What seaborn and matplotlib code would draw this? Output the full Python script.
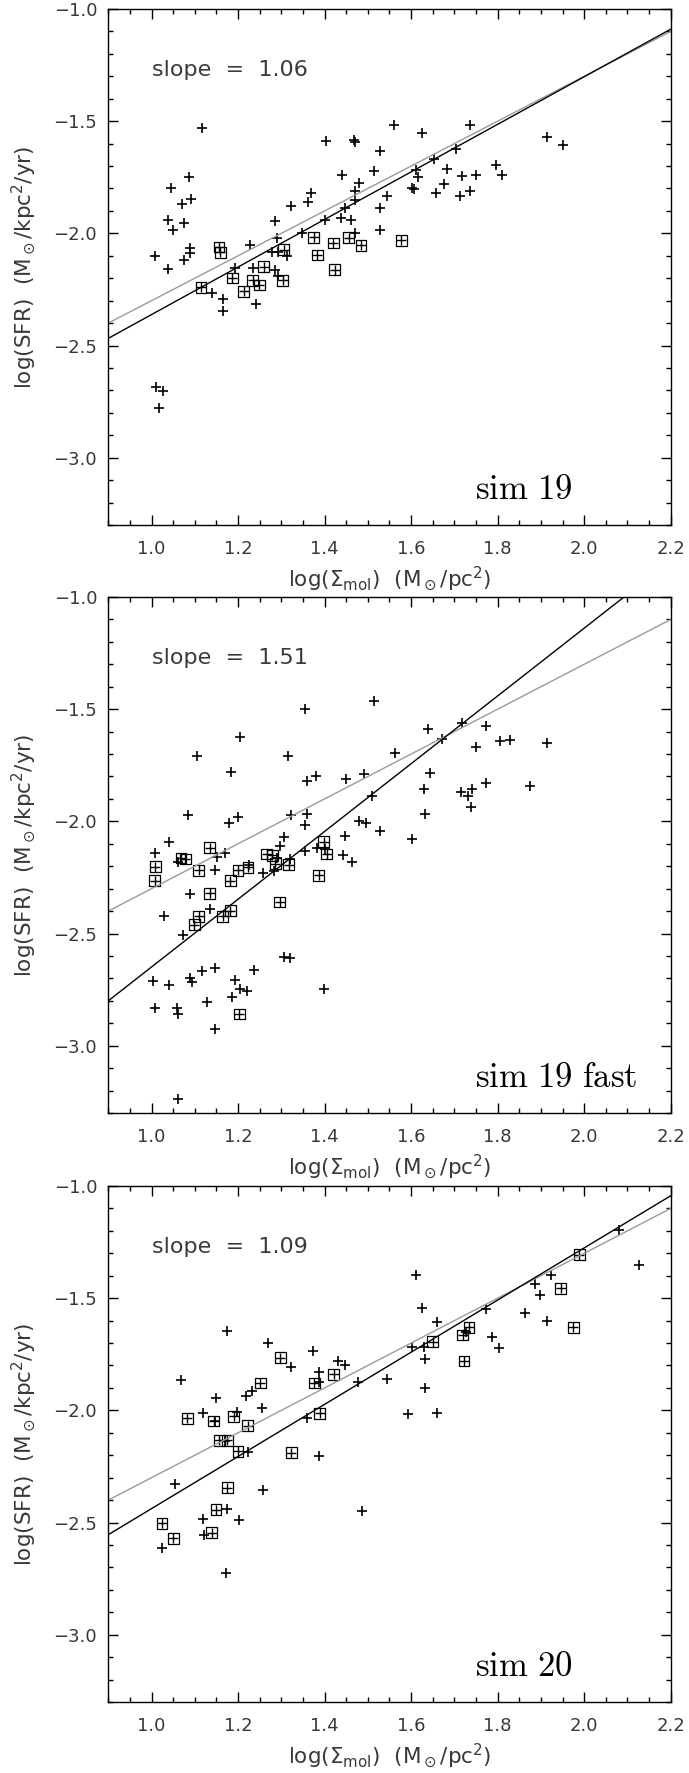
import numpy as np
import pandas as pd
import matplotlib
matplotlib.use("Agg")
import matplotlib.pyplot as plt
import seaborn as sns

# ---------------- data ----------------
# panel 1 : sim 19
p1_plus_x = [1.117, 1.046, 1.086, 1.091, 1.070, 1.038, 1.050, 1.075, 1.009, 1.038, 1.074, 1.090, 1.090,
             1.011, 1.027, 1.017, 1.139, 1.164, 1.166, 1.227, 1.193, 1.241, 1.234, 1.286, 1.291, 1.293,
             1.278, 1.286, 1.292, 1.314, 1.322, 1.347, 1.362, 1.369, 1.403, 1.400, 1.441, 1.437, 1.446,
             1.461, 1.467, 1.470, 1.470, 1.479, 1.470, 1.470, 1.515, 1.527, 1.527, 1.527, 1.545, 1.560,
             1.626, 1.603, 1.606, 1.611, 1.616, 1.652, 1.657, 1.677, 1.684, 1.703, 1.713, 1.718, 1.736,
             1.736, 1.750, 1.796, 1.809, 1.913, 1.951]
p1_plus_y = [-1.529, -1.796, -1.750, -1.847, -1.869, -1.940, -1.986, -1.954, -2.102, -2.158, -2.119, -2.065, -2.088,
             -2.684, -2.702, -2.779, -2.264, -2.293, -2.345, -2.054, -2.153, -2.315, -2.153, -1.946, -2.020, -2.082,
             -2.085, -2.162, -2.190, -2.099, -1.876, -2.000, -1.861, -1.821, -1.588, -1.940, -1.741, -1.932, -1.889,
             -1.940, -1.583, -1.592, -1.813, -1.774, -1.850, -2.000, -1.724, -1.631, -1.889, -1.983, -1.833, -1.515,
             -1.554, -1.796, -1.804, -1.719, -1.748, -1.668, -1.818, -1.782, -1.711, -1.622, -1.833, -1.745, -1.515,
             -1.813, -1.741, -1.697, -1.741, -1.571, -1.605]
p1_box_x = [1.114, 1.156, 1.159, 1.187, 1.213, 1.234, 1.249, 1.259, 1.305, 1.303, 1.375, 1.383, 1.420,
            1.423, 1.456, 1.484, 1.577]
p1_box_y = [-2.241, -2.061, -2.085, -2.199, -2.259, -2.209, -2.230, -2.148, -2.073, -2.209, -2.017, -2.097, -2.043,
            -2.162, -2.020, -2.054, -2.031]

# panel 2 : sim 19 fast
p2_plus_x = [1.007, 1.040, 1.061, 1.084, 1.088, 1.029, 1.073, 1.105, 1.205, 1.183, 1.200, 1.180, 1.170,
             1.147, 1.151, 1.135, 1.226, 1.257, 1.316, 1.322, 1.305, 1.297, 1.291, 1.284, 1.320, 1.354,
             1.360, 1.360, 1.354, 1.354, 1.381, 1.383, 1.400, 1.450, 1.448, 1.443, 1.464, 1.480, 1.490,
             1.495, 1.515, 1.510, 1.528, 1.563, 1.603, 1.629, 1.631, 1.639, 1.644, 1.672, 1.718, 1.716,
             1.731, 1.741, 1.738, 1.750, 1.772, 1.774, 1.806, 1.829, 1.875, 1.914, 1.004, 1.007, 1.040,
             1.058, 1.061, 1.090, 1.093, 1.117, 1.127, 1.147, 1.146, 1.187, 1.192, 1.205, 1.220, 1.236,
             1.307, 1.319, 1.398, 1.061]
p2_plus_y = [-2.142, -2.091, -2.182, -1.972, -2.325, -2.424, -2.506, -1.708, -1.622, -1.781, -1.980, -2.009, -2.142,
             -2.219, -2.159, -2.390, -2.194, -2.231, -1.708, -1.972, -2.069, -2.108, -2.165, -2.223, -2.168, -1.500,
             -1.818, -1.967, -2.015, -2.134, -1.798, -2.117, -2.122, -1.813, -2.066, -2.151, -2.182, -1.997, -1.789,
             -2.006, -1.465, -1.887, -2.043, -1.696, -2.078, -1.858, -1.967, -1.588, -1.784, -1.631, -1.563, -1.870,
             -1.887, -1.858, -1.938, -1.668, -1.576, -1.827, -1.643, -1.639, -1.841, -1.653, -2.710, -2.830, -2.731,
             -2.833, -2.859, -2.697, -2.714, -2.666, -2.804, -2.654, -2.927, -2.782, -2.705, -2.748, -2.756, -2.662,
             -2.603, -2.611, -2.748, -3.239]
p2_box_x = [1.007, 1.009, 1.068, 1.078, 1.109, 1.134, 1.134, 1.109, 1.099, 1.164, 1.182, 1.182, 1.200,
            1.223, 1.266, 1.279, 1.286, 1.317, 1.296, 1.386, 1.398, 1.405, 1.203]
p2_box_y = [-2.265, -2.202, -2.163, -2.168, -2.219, -2.117, -2.321, -2.424, -2.461, -2.424, -2.398, -2.265, -2.219,
            -2.205, -2.146, -2.151, -2.188, -2.194, -2.359, -2.240, -2.091, -2.146, -2.859]

# panel 3 : sim 20
p3_plus_x = [1.068, 1.119, 1.149, 1.146, 1.175, 1.170, 1.198, 1.218, 1.232, 1.222, 1.256, 1.269, 1.322,
             1.360, 1.373, 1.386, 1.386, 1.386, 1.432, 1.447, 1.478, 1.545, 1.487, 1.055, 1.025, 1.119,
             1.121, 1.172, 1.175, 1.203, 1.257, 1.593, 1.603, 1.611, 1.624, 1.629, 1.633, 1.633, 1.660,
             1.660, 1.726, 1.772, 1.786, 1.802, 1.863, 1.886, 1.899, 1.913, 1.924, 2.081, 2.127]
p3_plus_y = [-1.865, -2.013, -1.946, -2.049, -1.647, -2.137, -2.009, -1.937, -1.912, -2.185, -1.989, -1.698, -1.805,
             -2.035, -1.737, -1.831, -1.873, -2.202, -1.780, -1.797, -1.873, -1.860, -2.449, -2.328, -2.614, -2.486,
             -2.557, -2.724, -2.440, -2.489, -2.355, -2.018, -1.717, -1.397, -1.545, -1.717, -1.771, -1.899, -1.604,
             -2.014, -1.652, -1.550, -1.674, -1.720, -1.567, -1.439, -1.485, -1.601, -1.397, -1.197, -1.354]
p3_box_x = [1.024, 1.050, 1.083, 1.144, 1.157, 1.175, 1.190, 1.200, 1.222, 1.175, 1.149, 1.139, 1.251,
            1.298, 1.323, 1.376, 1.389, 1.421, 1.650, 1.719, 1.734, 1.722, 1.946, 1.975, 1.989]
p3_box_y = [-2.503, -2.571, -2.035, -2.047, -2.134, -2.134, -2.026, -2.183, -2.069, -2.345, -2.443, -2.546, -1.878,
            -1.766, -2.188, -1.878, -2.013, -1.839, -1.694, -1.664, -1.630, -1.780, -1.456, -1.630, -1.306]

# fitted lines: slope and intercept (black fit) and reference (gray)
fit_slopes = [1.06, 1.51, 1.162]
fit_intercepts = [-3.422, -4.159, -3.600]
ref_slope = 1.0
ref_intercept = -3.30
slope_labels = ["slope  =  1.06", "slope  =  1.51", "slope  =  1.09"]
sim_labels = ["sim 19", "sim 19 fast", "sim 20"]

x_ticks = [1.0, 1.2, 1.4, 1.6, 1.8, 2.0, 2.2]
y_ticks = [-3.0, -2.5, -2.0, -1.5, -1.0]

panels = [
    (p1_plus_x, p1_plus_y, p1_box_x, p1_box_y),
    (p2_plus_x, p2_plus_y, p2_box_x, p2_box_y),
    (p3_plus_x, p3_plus_y, p3_box_x, p3_box_y),
]

# ---------------- style ----------------
sns.set_theme(style="ticks")
plt.rcParams["font.family"] = ["DejaVu Sans"]
plt.rcParams["mathtext.fontset"] = "dejavusans"
plt.rcParams["axes.linewidth"] = 1.0
plt.rcParams["axes.edgecolor"] = "black"

TXT = "#383838"

W, H = 689, 1773
fig = plt.figure(figsize=(W / 100, H / 100), dpi=100)
fig.patch.set_facecolor("white")

left = 108.3 / W
width = 562.4 / W
tops = [9, 597, 1186]
ph = 516

xline = np.array([0.9, 2.2])

for i, (px, py, bx, by) in enumerate(panels):
    ax = fig.add_axes([left, (H - tops[i] - ph) / H, width, ph / H])
    ax.set_facecolor("white")

    # reference (gray) and fitted (black) lines
    ref_df = pd.DataFrame({"x": xline, "y": ref_intercept + ref_slope * xline})
    fit_df = pd.DataFrame({"x": xline, "y": fit_intercepts[i] + fit_slopes[i] * xline})
    sns.lineplot(data=ref_df, x="x", y="y", color="#9a9a9a", lw=1.0, ax=ax)
    sns.lineplot(data=fit_df, x="x", y="y", color="black", lw=1.0, ax=ax)

    # points
    sns.scatterplot(x=px, y=py, marker="+", s=55, color="black", linewidth=1.2, ax=ax)
    sns.scatterplot(x=bx, y=by, marker="+", s=55, color="black", linewidth=1.0, ax=ax)
    sns.scatterplot(x=bx, y=by, marker="s", s=60, facecolor="none", edgecolor="black",
                    linewidth=0.9, ax=ax)

    ax.set_xlim(0.9, 2.2)
    ax.set_ylim(-3.3, -1.0)
    ax.set_xticks(x_ticks)
    ax.set_yticks(y_ticks)
    ax.set_xticklabels([f"{v:.1f}" for v in x_ticks])
    ax.set_yticklabels([f"\u2212{abs(v):.1f}" for v in y_ticks])
    ax.xaxis.set_minor_locator(matplotlib.ticker.MultipleLocator(0.05))
    ax.yaxis.set_minor_locator(matplotlib.ticker.MultipleLocator(0.1))
    ax.tick_params(which="both", direction="in", top=True, right=True, color="black",
                   width=1.0, labelsize=13, labelcolor=TXT)
    ax.tick_params(which="major", length=7.5)
    ax.tick_params(which="minor", length=3.8)
    ax.tick_params(axis="x", which="major", pad=11)
    ax.tick_params(axis="y", which="major", pad=8)
    for s in ax.spines.values():
        s.set_visible(True)
        s.set_linewidth(1.0)
        s.set_color("black")

    ax.set_xlabel(r"log($\Sigma_{\rm mol}$)  (M$_\odot$/pc$^2$)", fontsize=15.5, color=TXT, labelpad=4)
    ax.set_ylabel(r"log(SFR)  (M$_\odot$/kpc$^2$/yr)", fontsize=15.5, color=TXT, labelpad=11)

    ax.text(1.0, -1.27, slope_labels[i], fontsize=16, color="#3a3a3a", ha="left", va="center")
    ax.text(1.748, -3.185, r"$\mathrm{" + sim_labels[i].replace(" ", r"\ ") + "}$",
            math_fontfamily="cm", fontsize=25, color="black", ha="left", va="baseline")

fig.savefig("out.png", dpi=100, facecolor="white")
